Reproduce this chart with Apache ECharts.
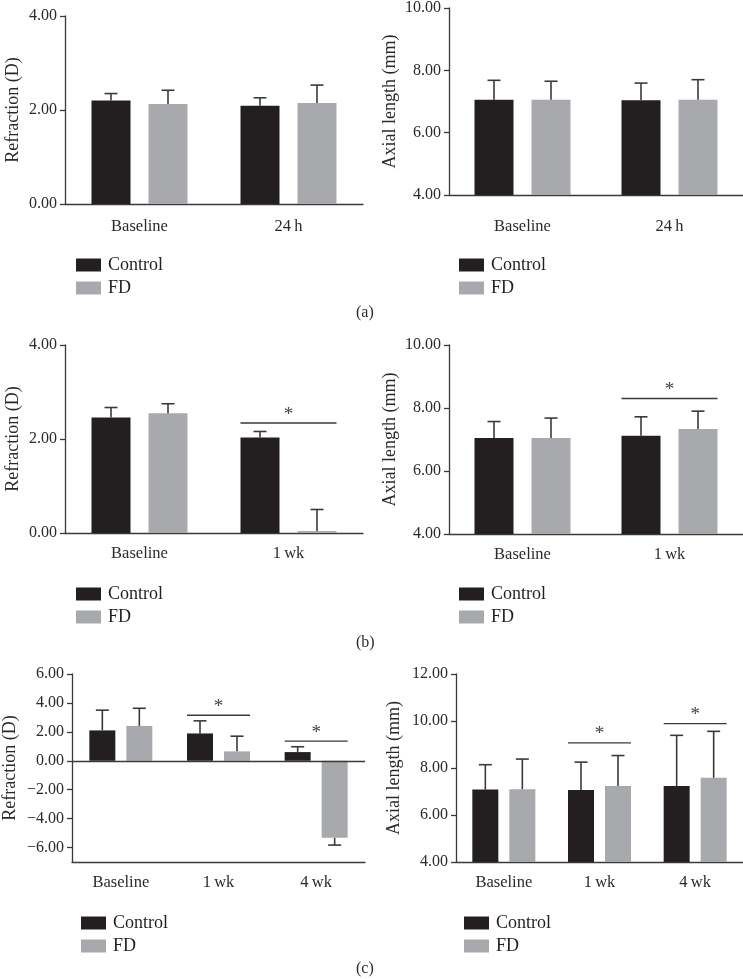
<!doctype html>
<html>
  <head>
    <meta charset="utf-8">
    <title>Refraction and axial length</title>
    <script src="https://cdn.jsdelivr.net/npm/echarts@6/dist/echarts.min.js"></script>
    <style>
      html, body { margin: 0; padding: 0; background: #fff; }
    </style>
  </head>
  <body>
    <div id="main" style="width:743px;height:979px;"></div>
  </body>
  <script>
   // categories
   var catsA = ['Baseline', '24\u2009h'];
   var catsB = ['Baseline', '1\u2009wk'];
   var catsC = ['Baseline', '1\u2009wk', '4\u2009wk'];

   // (a) 24 h
   var refA_ctrl = [2.20, 2.09], refA_ctrlSD = [0.15, 0.17];
   var refA_fd = [2.13, 2.15], refA_fdSD = [0.29, 0.38];
   var alA_ctrl = [7.06, 7.04], alA_ctrlSD = [0.62, 0.55];
   var alA_fd = [7.06, 7.06], alA_fdSD = [0.59, 0.64];

   // (b) 1 wk
   var refB_ctrl = [2.46, 2.03], refB_ctrlSD = [0.21, 0.13];
   var refB_fd = [2.55, 0.04], refB_fdSD = [0.20, 0.46];
   var alB_ctrl = [7.05, 7.12], alB_ctrlSD = [0.52, 0.60];
   var alB_fd = [7.05, 7.33], alB_fdSD = [0.63, 0.57];

   // (c) 4 wk
   var refC_ctrl = [2.10, 1.89, 0.60], refC_ctrlSD = [1.40, 0.87, 0.37];
   var refC_fd = [2.41, 0.65, -5.33], refC_fdSD = [1.22, 1.05, 0.50];
   var alC_ctrl = [7.08, 7.06, 7.23], alC_ctrlSD = [1.06, 1.19, 2.16];
   var alC_fd = [7.10, 7.23, 7.58], alC_fdSD = [1.28, 1.30, 1.98];

   // significance brackets: [category index, height]
   var refB_sig = [[1, 2.34]];
   var alB_sig = [[1, 8.30]];
   var refC_sig = [[1, 3.15], [2, 1.36]];
   var alC_sig = [[1, 9.07], [2, 9.89]];

   // tick labels
   var refTicksAB = [0, 2, 4];
   var alTicksAB = [4, 6, 8, 10];
   var refTicksC = [-6, -4, -2, 0, 2, 4, 6];
   var alTicksC = [4, 6, 8, 10, 12];

   var FONT = '"Liberation Serif", "DejaVu Serif", serif';
   var DARK = '#231f20';
   var GREY = '#a7a9ac';
   var LINE = '#3a3a3a';

   var chart = echarts.init(document.getElementById('main'));

   var grids = [], xAxes = [], yAxes = [], series = [], legends = [];

   function fmt(v) {
     var s = Math.abs(v).toFixed(2);
     return v < 0 ? '\u2212' + s : s;
   }

   function errorBars(gi, means, sds, side, barW, gapW) {
     return {
       type: 'custom', xAxisIndex: gi, yAxisIndex: gi, silent: true, z: 3,
       data: means.map(function (m, i) { return [i, m, sds[i]]; }),
       renderItem: function (params, api) {
         var i = api.value(0), m = api.value(1), sd = api.value(2);
         var end = m >= 0 ? m + sd : m - sd;
         var p0 = api.coord([i, m]);
         var p1 = api.coord([i, end]);
         var x = p0[0] + side * (barW + gapW) / 2;
         var st = { stroke: LINE, lineWidth: 1.6 };
         return { type: 'group', children: [
           { type: 'line', shape: { x1: x, y1: p0[1], x2: x, y2: p1[1] }, style: st },
           { type: 'line', shape: { x1: x - 6.5, y1: p1[1], x2: x + 6.5, y2: p1[1] }, style: st }
         ]};
       }
     };
   }

   function sigMarks(gi, sig, barW, gapW) {
     return {
       type: 'custom', xAxisIndex: gi, yAxisIndex: gi, silent: true, z: 3,
       data: sig,
       renderItem: function (params, api) {
         var p = api.coord([api.value(0), api.value(1)]);
         var half = barW + gapW / 2;
         return { type: 'group', children: [
           { type: 'line', shape: { x1: p[0] - half, y1: p[1], x2: p[0] + half, y2: p[1] },
             style: { stroke: LINE, lineWidth: 1.4 } },
           { type: 'text', x: p[0], y: p[1] + 1,
             style: { text: '*', font: '19px ' + FONT, fill: '#444', align: 'center', verticalAlign: 'bottom' } }
         ]};
       }
     };
   }

   function panel(p) {
     var gi = grids.length;
     grids.push({ left: p.left, top: p.top, width: p.width, height: p.height });
     xAxes.push({
       type: 'category', gridIndex: gi, data: p.cats,
       axisLine: { onZero: false, lineStyle: { color: LINE, width: 1.3 } },
       axisTick: { alignWithLabel: true, length: 5, lineStyle: { color: LINE, width: 1.3 } },
       axisLabel: { margin: p.labelMargin, color: '#2a2a2a', fontFamily: FONT, fontSize: 16.5 }
     });
     yAxes.push({
       type: 'value', gridIndex: gi, min: p.min, max: p.max,
       name: p.name, nameLocation: 'middle', nameGap: p.nameGap,
       nameTextStyle: { color: '#2a2a2a', fontFamily: FONT, fontSize: 18 },
       splitLine: { show: false },
       axisLine: { show: true, lineStyle: { color: LINE, width: 1.3 } },
       axisTick: { show: true, length: 5, customValues: p.ticks, lineStyle: { color: LINE, width: 1.3 } },
       axisLabel: { margin: 8, customValues: p.ticks, formatter: fmt, color: '#2a2a2a', fontFamily: FONT, fontSize: 16 }
     });
     var ctrl = {
       name: 'Control', type: 'bar', xAxisIndex: gi, yAxisIndex: gi,
       data: p.ctrl, barWidth: p.barW, barGap: (p.gapW / p.barW * 100) + '%',
       itemStyle: { color: DARK }
     };
     if (p.zeroLine) {
       ctrl.markLine = {
         silent: true, symbol: 'none', label: { show: false },
         lineStyle: { color: LINE, width: 1.3, type: 'solid' },
         data: [{ yAxis: 0 }]
       };
     }
     series.push(ctrl);
     series.push({
       name: 'FD', type: 'bar', xAxisIndex: gi, yAxisIndex: gi,
       data: p.fd, barWidth: p.barW, itemStyle: { color: GREY }
     });
     series.push(errorBars(gi, p.ctrl, p.ctrlSD, -1, p.barW, p.gapW));
     series.push(errorBars(gi, p.fd, p.fdSD, 1, p.barW, p.gapW));
     if (p.sig) series.push(sigMarks(gi, p.sig, p.barW, p.gapW));
     legends.push({
       left: p.legLeft, top: p.legTop, orient: 'vertical', data: ['Control', 'FD'],
       icon: 'rect', itemWidth: 25, itemHeight: 13, itemGap: 5, selectedMode: false,
       textStyle: { color: DARK, fontFamily: FONT, fontSize: 18, lineHeight: 18, padding: [0, 0, 0, 2] }
     });
   }

   panel({ left: 65, top: 16, width: 298, height: 188, cats: catsA, min: 0, max: 4, ticks: refTicksAB,
     name: 'Refraction (D)', nameGap: 43, labelMargin: 14,
     ctrl: refA_ctrl, ctrlSD: refA_ctrlSD, fd: refA_fd, fdSD: refA_fdSD,
     barW: 39, gapW: 18, legLeft: 71, legTop: 251 });
   panel({ left: 449, top: 6, width: 296, height: 189, cats: catsA, min: 4, max: 10, ticks: alTicksAB,
     name: 'Axial length (mm)', nameGap: 50, labelMargin: 23,
     ctrl: alA_ctrl, ctrlSD: alA_ctrlSD, fd: alA_fd, fdSD: alA_fdSD,
     barW: 39, gapW: 18, legLeft: 454, legTop: 251 });
   panel({ left: 65, top: 345, width: 298, height: 188, cats: catsB, min: 0, max: 4, ticks: refTicksAB,
     name: 'Refraction (D)', nameGap: 43, labelMargin: 12,
     ctrl: refB_ctrl, ctrlSD: refB_ctrlSD, fd: refB_fd, fdSD: refB_fdSD, sig: refB_sig,
     barW: 39, gapW: 18, legLeft: 71, legTop: 580 });
   panel({ left: 449, top: 345, width: 296, height: 189, cats: catsB, min: 4, max: 10, ticks: alTicksAB,
     name: 'Axial length (mm)', nameGap: 50, labelMargin: 12,
     ctrl: alB_ctrl, ctrlSD: alB_ctrlSD, fd: alB_fd, fdSD: alB_fdSD, sig: alB_sig,
     barW: 39, gapW: 18, legLeft: 454, legTop: 580 });
   panel({ left: 72, top: 674, width: 293, height: 188, cats: catsC, min: -7, max: 6, ticks: refTicksC,
     name: 'Refraction (D)', nameGap: 53, labelMargin: 12, zeroLine: true,
     ctrl: refC_ctrl, ctrlSD: refC_ctrlSD, fd: refC_fd, fdSD: refC_fdSD, sig: refC_sig,
     barW: 26, gapW: 11, legLeft: 76, legTop: 909 });
   panel({ left: 456, top: 674, width: 292, height: 188, cats: catsC, min: 4, max: 12, ticks: alTicksC,
     name: 'Axial length (mm)', nameGap: 53, labelMargin: 12,
     ctrl: alC_ctrl, ctrlSD: alC_ctrlSD, fd: alC_fd, fdSD: alC_fdSD, sig: alC_sig,
     barW: 26, gapW: 11, legLeft: 459, legTop: 909 });

   var option = {
     animation: false,
     backgroundColor: '#fff',
     grid: grids,
     xAxis: xAxes,
     yAxis: yAxes,
     legend: legends,
     series: series,
     graphic: [
       { type: 'text', left: 356, top: 305, style: { text: '(a)', font: '16px ' + FONT, fill: '#2a2a2a' } },
       { type: 'text', left: 356, top: 635, style: { text: '(b)', font: '16px ' + FONT, fill: '#2a2a2a' } },
       { type: 'text', left: 356, top: 961, style: { text: '(c)', font: '16px ' + FONT, fill: '#2a2a2a' } }
     ]
   };
   chart.setOption(option);
  </script>
</html>
